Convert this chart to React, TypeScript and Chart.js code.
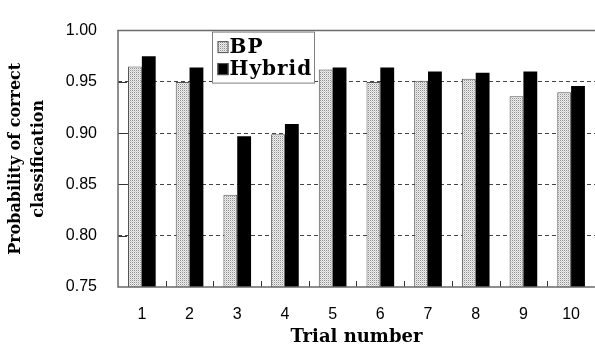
import React, { useEffect, useRef } from "react";
import { Chart, registerables } from "chart.js";

Chart.register(...registerables);

const categories = ["1", "2", "3", "4", "5", "6", "7", "8", "9", "10"];
const bpValues = [0.965, 0.95, 0.84, 0.899, 0.962, 0.95, 0.951, 0.953, 0.936, 0.94];
const hybridValues = [0.975, 0.964, 0.897, 0.909, 0.964, 0.964, 0.96, 0.959, 0.96, 0.946];
const yTicks = [0.75, 0.8, 0.85, 0.9, 0.95, 1.0];
const seriesNames = ["BP", "Hybrid"];
const xTitle = "Trial number";
const yTitle = ["Probability of correct", "classification"];

function makePattern(): CanvasPattern | string {
  const c = document.createElement("canvas");
  c.width = 2;
  c.height = 2;
  const g = c.getContext("2d");
  if (!g) return "#cccccc";
  g.fillStyle = "#eeeeee";
  g.fillRect(0, 0, 2, 2);
  g.fillStyle = "#8f8f8f";
  g.fillRect(0, 0, 1, 1);
  g.fillStyle = "#cfcfcf";
  g.fillRect(1, 1, 1, 1);
  const p = g.createPattern(c, "repeat");
  return p || "#cccccc";
}

const framePlugin = {
  id: "frame",
  afterDraw(chart: any) {
    const { ctx, chartArea: a, scales } = chart;
    const x = scales.x;
    const y = scales.y;
    ctx.save();
    ctx.lineWidth = 1;
    ctx.strokeStyle = "#333333";
    yTicks.slice(1, -1).forEach((v) => {
      const py = Math.round(y.getPixelForValue(v)) + 0.5;
      ctx.beginPath();
      ctx.moveTo(a.left, py);
      ctx.lineTo(a.left + 9, py);
      ctx.stroke();
    });
    for (let i = 1; i < categories.length; i++) {
      const px = Math.round((x.getPixelForValue(i - 1) + x.getPixelForValue(i)) / 2) + 0.5;
      ctx.beginPath();
      ctx.moveTo(px, a.bottom);
      ctx.lineTo(px, a.bottom - 6);
      ctx.stroke();
    }
    ctx.strokeStyle = "#6a6a6a";
    ctx.lineWidth = 1.5;
    ctx.beginPath();
    ctx.moveTo(a.right, a.top);
    ctx.lineTo(a.left, a.top);
    ctx.lineTo(a.left, a.bottom);
    ctx.lineTo(a.right, a.bottom);
    ctx.stroke();

    // legend
    const lx = a.left + 94.5;
    const ly = a.top + 1.5;
    const lw = 102;
    const lh = 51;
    ctx.fillStyle = "#ffffff";
    ctx.fillRect(lx, ly, lw, lh);
    ctx.strokeStyle = "#808080";
    ctx.lineWidth = 1;
    ctx.strokeRect(lx, ly, lw, lh);
    ctx.font = "bold 20px 'DejaVu Serif'";
    (ctx as any).letterSpacing = "1px";
    ctx.textBaseline = "middle";
    ctx.textAlign = "left";
    chart.data.datasets.forEach((ds: any, i: number) => {
      const cy = ly + 15 + i * 22;
      ctx.fillStyle = ds.backgroundColor;
      ctx.fillRect(lx + 5, cy - 6, 11, 12);
      ctx.strokeStyle = "#555555";
      ctx.lineWidth = 1;
      ctx.strokeRect(lx + 5.5, cy - 5.5, 10, 11);
      ctx.fillStyle = "#000000";
      ctx.fillText(ds.label, lx + 17, cy + 1);
    });
    ctx.restore();
  },
};

export default function App() {
  const ref = useRef<HTMLCanvasElement>(null);
  useEffect(() => {
    document.body.style.margin = "0";
    if (!ref.current) return;
    const pattern = makePattern();
    const chart = new Chart(ref.current, {
      type: "bar",
      data: {
        labels: categories,
        datasets: [
          {
            label: seriesNames[0],
            data: bpValues,
            backgroundColor: pattern as any,
            borderColor: "#555555",
            borderWidth: 1,
          },
          {
            label: seriesNames[1],
            data: hybridValues,
            backgroundColor: "#000000",
            borderColor: "#000000",
            borderWidth: 0,
          },
        ],
      },
      options: {
        responsive: false,
        animation: false,
        layout: { padding: { left: 0, right: 0, top: 13, bottom: 0 } },
        datasets: { bar: { categoryPercentage: 0.58, barPercentage: 1.0 } },
        plugins: { legend: { display: false }, tooltip: { enabled: false } },
        scales: {
          x: {
            grid: { display: false, drawTicks: false },
            border: { display: false },
            ticks: {
              color: "#000000",
              padding: 18,
              font: { family: "'Liberation Sans'", size: 16 },
            },
            title: {
              display: true,
              text: xTitle,
              color: "#000000",
              padding: { top: 0, bottom: 1 },
              font: { family: "'DejaVu Serif'", size: 18, weight: "bold" },
            },
            afterFit(scale: any) {
              scale.height = 62;
            },
          },
          y: {
            min: 0.75,
            max: 1.0,
            afterBuildTicks(scale: any) {
              scale.ticks = yTicks.map((v) => ({ value: v }));
            },
            grid: {
              drawTicks: false,
              color: (c: any) =>
                c.tick && (c.tick.value === yTicks[0] || c.tick.value === yTicks[yTicks.length - 1])
                  ? "rgba(0,0,0,0)"
                  : "#444444",
              lineWidth: 1,
            },
            border: { display: false, dash: [4, 3] },
            ticks: {
              color: "#000000",
              padding: 21,
              font: { family: "'Liberation Sans'", size: 16 },
              callback: (v: any) => Number(v).toFixed(2),
            },
            title: {
              display: true,
              text: yTitle,
              color: "#000000",
              padding: { top: 5, bottom: 0 },
              font: { family: "'DejaVu Serif'", size: 16, weight: "bold", lineHeight: 1.4 },
            },
            afterFit(scale: any) {
              scale.width = 118;
            },
          },
        },
      },
      plugins: [framePlugin],
    });
    return () => chart.destroy();
  }, []);
  return (
    <div style={{ width: 595, height: 349, overflow: "hidden" }}>
      <canvas ref={ref} width={598} height={349} style={{ display: "block" }} />
    </div>
  );
}
